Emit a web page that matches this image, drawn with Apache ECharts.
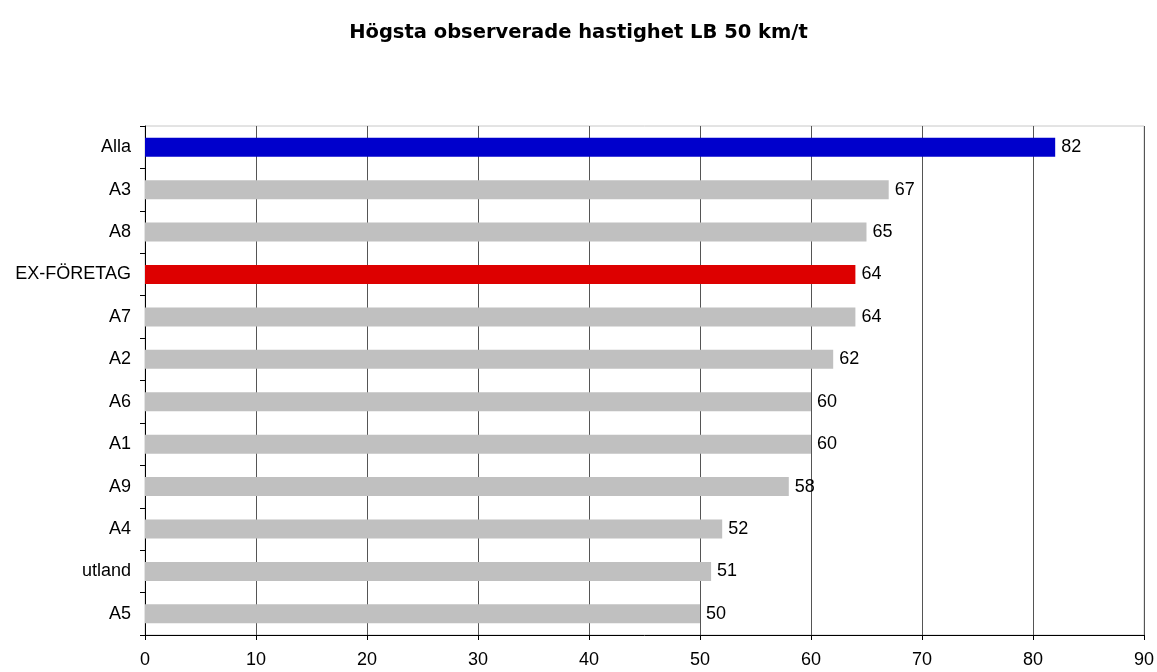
<!DOCTYPE html>
<html>
<head>
<meta charset="utf-8">
<script src="https://cdn.jsdelivr.net/npm/echarts@6/dist/echarts.min.js"></script>
<style>html,body{margin:0;padding:0;background:#fff;}#c{width:1157px;height:672px;}</style>
</head>
<body>
<div id="c"></div>
<script>
const categories = ['Alla','A3','A8','EX-FÖRETAG','A7','A2','A6','A1','A9','A4','utland','A5'];
const values = [82,67,65,64,64,62,60,60,58,52,51,50];
const colors = ['#0000CC','#C0C0C0','#C0C0C0','#DD0000','#C0C0C0','#C0C0C0','#C0C0C0','#C0C0C0','#C0C0C0','#C0C0C0','#C0C0C0','#C0C0C0'];
const xTicks = [0,10,20,30,40,50,60,70,80,90];

const chart = echarts.init(document.getElementById('c'));
chart.setOption({
  animation:false,
  title:{text:'Högsta observerade hastighet LB 50 km/t',left:'center',top:18,
    textStyle:{fontFamily:'DejaVu Sans',fontSize:19.5,fontWeight:'bold',color:'#000'}},
  grid:{left:145,right:13,top:126,bottom:37,show:true,borderColor:'#C8C8C8',borderWidth:1},
  xAxis:{type:'value',min:xTicks[0],max:xTicks[xTicks.length-1],interval:10,
    axisLine:{show:true,lineStyle:{color:'#000'}},
    axisTick:{show:true,length:5,lineStyle:{color:'#000'}},
    axisLabel:{color:'#000',fontFamily:'Liberation Sans, Arial',fontSize:18,margin:16},
    splitLine:{show:true,lineStyle:{color:'#555',width:1}}},
  yAxis:{type:'category',data:categories,inverse:true,
    axisLine:{show:true,lineStyle:{color:'#000'}},
    axisTick:{show:true,length:5,lineStyle:{color:'#000'}},
    axisLabel:{color:'#000',fontFamily:'Liberation Sans, Arial',fontSize:18,margin:14}},
  series:[{type:'bar',barWidth:19,
    data:values.map((v,i)=>({value:v,itemStyle:{color:colors[i]}})),
    label:{show:true,position:'right',distance:6,color:'#000',fontFamily:'Liberation Sans, Arial',fontSize:18}}]
});
</script>
</body>
</html>
